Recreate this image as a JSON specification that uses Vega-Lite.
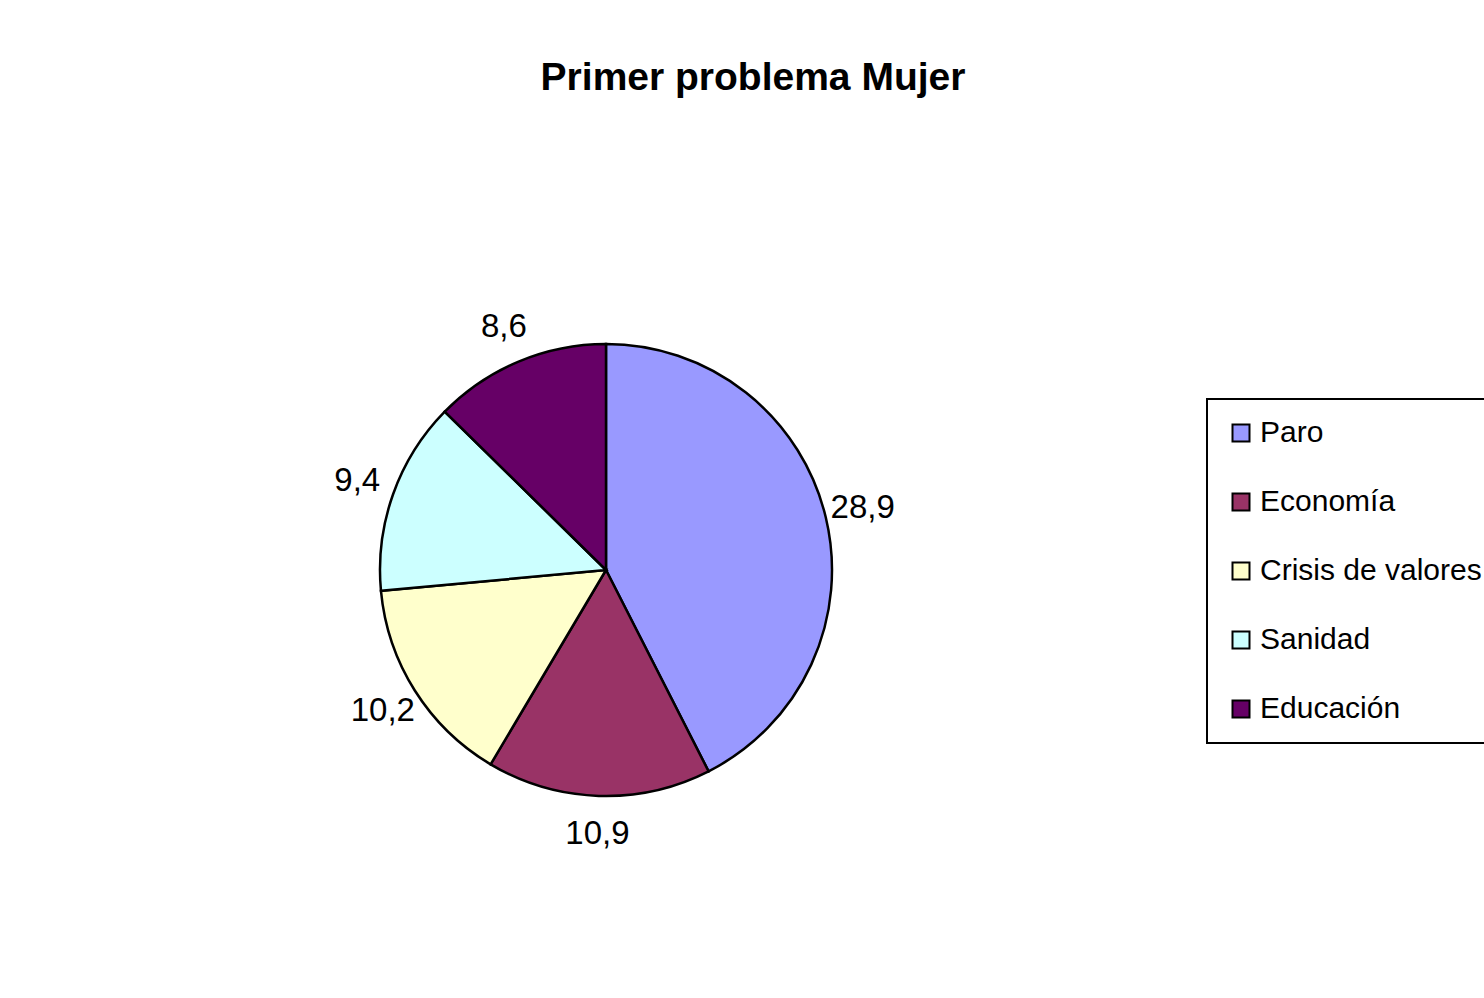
{
  "$schema": "https://vega.github.io/schema/vega-lite/v6.json",
  "autosize": {"type": "none"},
  "width": 1212,
  "height": 920,
  "padding": {"left": 0, "top": 110, "right": 272, "bottom": 0},
  "background": "white",
  "title": {
    "text": "Primer problema Mujer",
    "font": "Liberation Sans",
    "fontSize": 39,
    "fontWeight": "bold",
    "color": "black",
    "anchor": "middle",
    "dx": 147,
    "offset": 12
  },
  "data": {
    "values": [
      {"problema": "Paro", "valor": 28.9, "etiqueta": "28,9", "orden": 1},
      {"problema": "Economía", "valor": 10.9, "etiqueta": "10,9", "orden": 2},
      {"problema": "Crisis de valores", "valor": 10.2, "etiqueta": "10,2", "orden": 3},
      {"problema": "Sanidad", "valor": 9.4, "etiqueta": "9,4", "orden": 4},
      {"problema": "Educación", "valor": 8.6, "etiqueta": "8,6", "orden": 5}
    ]
  },
  "encoding": {
    "theta": {"field": "valor", "type": "quantitative", "stack": true},
    "order": {"field": "orden", "type": "quantitative"}
  },
  "layer": [
    {
      "mark": {"type": "arc", "radius": 226, "stroke": "black", "strokeWidth": 2.5},
      "encoding": {
        "color": {
          "field": "problema",
          "type": "nominal",
          "scale": {
            "domain": ["Paro", "Economía", "Crisis de valores", "Sanidad", "Educación"],
            "range": ["#9999FF", "#993366", "#FFFFCC", "#CCFFFF", "#660066"]
          },
          "legend": {
            "title": null,
            "orient": "none",
            "legendX": 1207,
            "legendY": 289,
            "symbolType": "square",
            "symbolSize": 289,
            "symbolStrokeColor": "black",
            "symbolStrokeWidth": 2,
            "symbolOpacity": 1,
            "labelFont": "Liberation Sans",
            "labelFontSize": 30,
            "labelColor": "black",
            "labelOffset": 4,
            "labelLimit": 400,
            "rowPadding": 39,
            "padding": 19,
            "strokeColor": "black",
            "fillColor": "white"
          }
        }
      }
    },
    {
      "mark": {"type": "text", "radius": 264, "font": "Liberation Sans", "fontSize": 33, "color": "black", "align": "center", "baseline": "middle"},
      "encoding": {
        "text": {"field": "etiqueta", "type": "nominal"}
      }
    }
  ],
  "config": {
    "view": {"stroke": null},
    "legend": {"strokeWidth": 2}
  }
}
